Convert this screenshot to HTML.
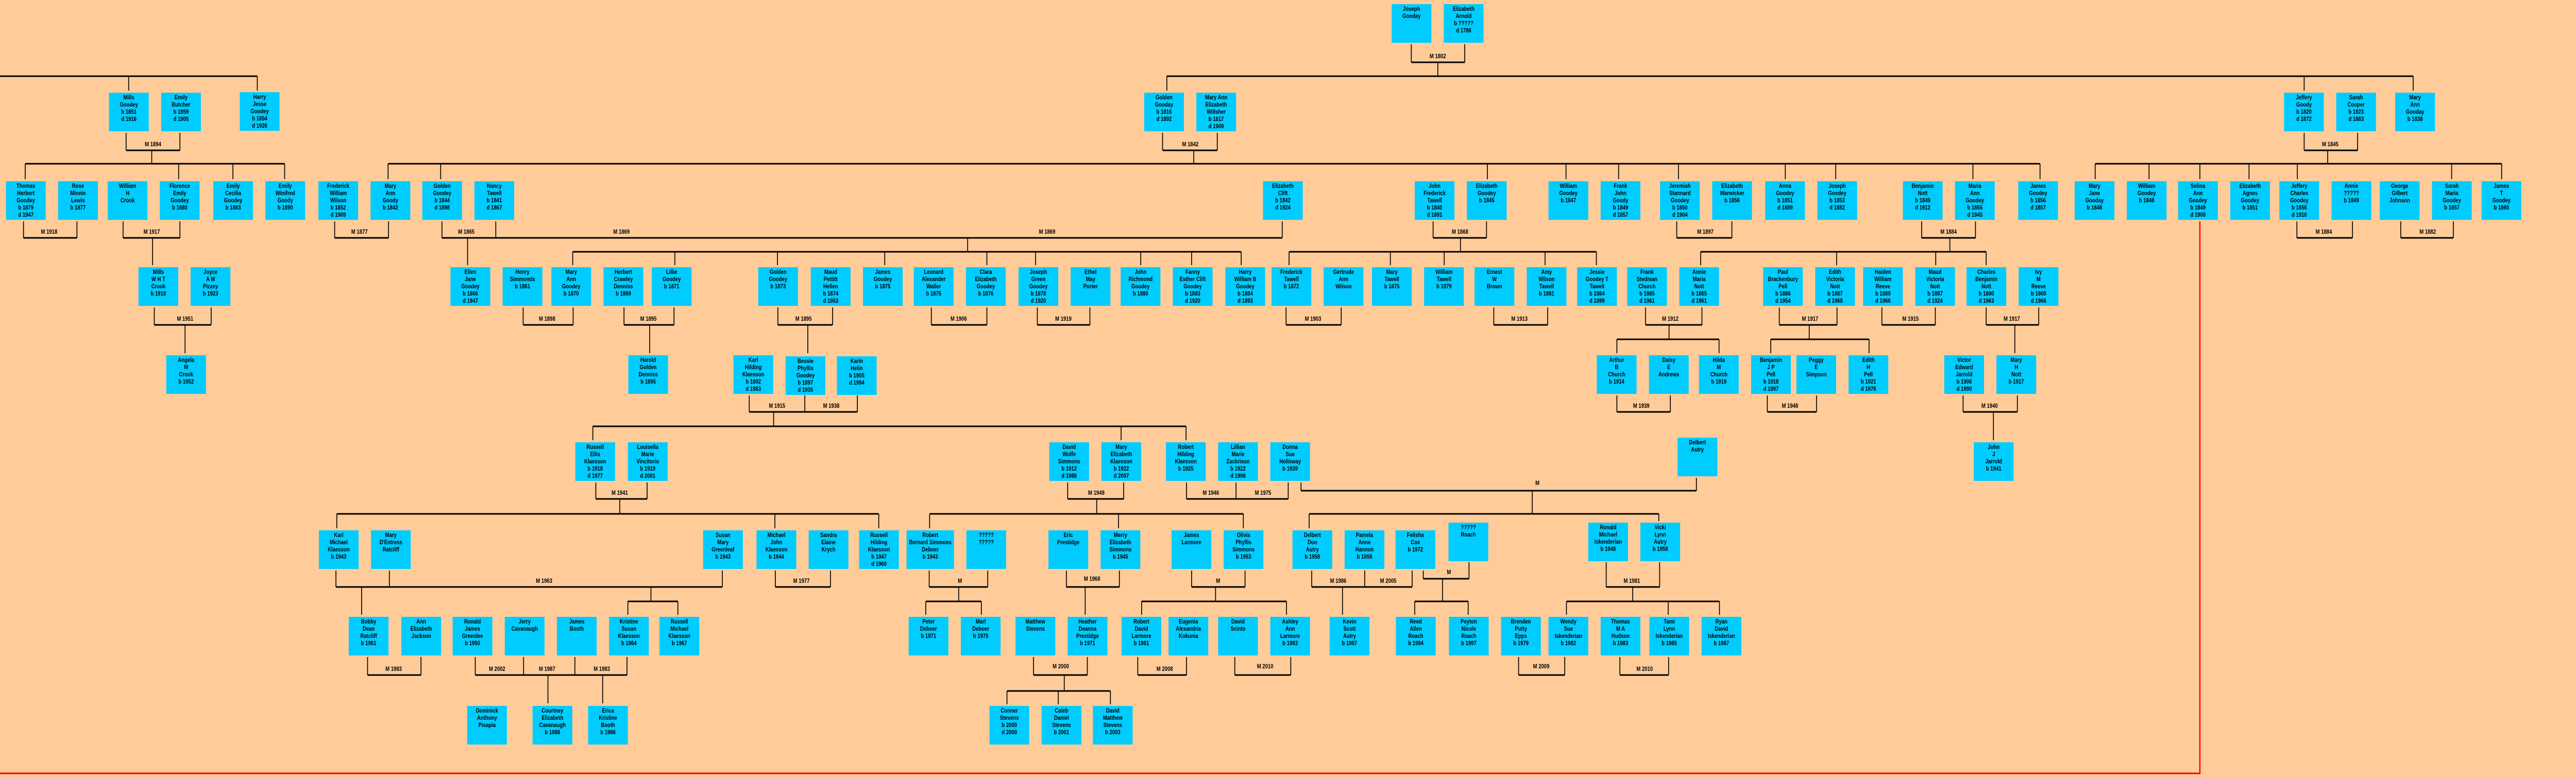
<!DOCTYPE html>
<html><head><meta charset="utf-8"><style>
html,body{margin:0;padding:0;overflow:hidden;background:#ffcc99}
#w{position:absolute;left:0;top:0;width:6027px;height:1511px;background:#ffcc99;transform-origin:0 0;overflow:hidden}
.b{position:absolute;width:93px;height:75px;background:#00ccff;color:#000;font:bold 11.5px/14px "Liberation Sans Narrow","Liberation Sans",sans-serif;text-align:center;padding-top:3px;box-sizing:border-box;white-space:nowrap;overflow:hidden}
svg{position:absolute;left:0;top:0}
svg text{font:bold 11.5px "Liberation Sans Narrow","Liberation Sans",sans-serif;text-anchor:middle;fill:#000}
</style></head><body>
<div id="w">
<svg width="6027" height="1511">
<g stroke="#000" stroke-width="3" fill="none">
<path d="M3302 121H3427M0 148H602M2730 148H5646
M295 292H421M59 318H666M2720 292H2848M908 318H4773M5391 292H5516M4902 318H5853
M55 462H180M288 462H421M783 462H909M1034 462H3000M1340 489H2904M3353 462H3478M3016 489H3735M3923 462H4052M4496 462H4622M3979 489H4647M5374 462H5504M5617 462H5740
M361 631H494M1224 631H1341M1460 631H1577M1820 631H1948M2179 631H2309M2427 631H2550M3009 631H3138M3495 631H3621M3850 631H3982M3783 659H4022M4163 631H4298M4143 659H4373M4403 631H4528M4647 631H4770
M1753 800H2006M1387 828H2775M3783 800H3908M4135 800H4250M4593 800H4720
M1394 969H1514M788 998H2056M2498 969H2629M2175 998H2909M2776 969H3014M3044 953H3969M3063 998H3881
M786 1140H1690M1469 1168H1586M1814 1140H1943M2174 1140H2311M2166 1168H2296M2495 1140H2619M2788 1140H2913M2671 1168H3010M3069 1140H3304M3330 1124H3437M3310 1168H3435M3758 1140H3883M3665 1168H4023
M860 1311H985M1112 1311H1467M2418 1311H2544M2356 1342H2598M2662 1311H2776M2889 1311H3020M3553 1311H3661M3790 1311H3904"/>
</g>
<g stroke="#000" stroke-width="2" fill="none">
<path d="M3302 86V121M3427 86V121M3364 121V148M301 148V176M602 148V176M2730 148V176M5391 148V176M5646 148V176
M295 258V292M421 258V292M355 292V318M59 318V348M418 318V348M545 318V348M666 318V348
M2720 258V292M2848 258V292M2793 292V318M908 318V348M1031 318V348M3480 318V348M3664 318V348M3787 318V348M3927 318V348M4177 318V348M4295 318V348M4616 318V348M4773 318V348
M5391 258V292M5516 258V292M5446 292V318M4902 318V348M5028 318V348M5147 318V348M5262 318V348M5375 318V348M5736 318V348M5853 318V348
M55 430V462M180 430V462M288 430V462M421 430V462M357 462V515M783 430V462M909 430V462M1034 430V462M1160 430V462M3000 430V462M1094 462V515M2264 462V489
M1340 489V515M1579 489V515M1819 489V515M2070 489V515M2309 489V515M2423 489V515M2669 489V515M2788 489V515M2904 489V515
M3353 430V462M3478 430V462M3417 462V489M3016 489V515M3253 489V515M3379 489V515M3615 489V515M3735 489V515M3923 430V462M4052 430V462
M4496 430V462M4622 430V462M4562 462V489M3979 489V515M4297 489V515M4529 489V515M4647 489V515M5374 430V462M5504 430V462M5617 430V462M5740 430V462
M361 597V631M494 597V631M433 631V686M1224 597V631M1341 597V631M1460 597V631M1577 597V631M1520 631V686M1820 597V631M1948 597V631M1890 631V686
M2179 597V631M2309 597V631M2427 597V631M2550 597V631M3009 597V631M3138 597V631M3495 597V631M3621 597V631
M3850 597V631M3982 597V631M3905 631V659M3783 659V686M4022 659V686M4163 597V631M4298 597V631M4233 631V659M4143 659V686M4373 659V686
M4403 597V631M4528 597V631M4647 597V631M4770 597V631M4714 631V686
M1753 768V800M1883 768V800M2006 768V800M1810 800V828M1387 828V855M2623 828V855M2775 828V855M3783 768V800M3908 768V800M4135 768V800M4250 768V800M4593 768V800M4720 768V800M4664 800V855
M1394 937V969M1514 937V969M1450 969V998M788 998V1026M1813 998V1026M2056 998V1026M2498 937V969M2629 937V969M2566 969V998M2175 998V1026M2617 998V1026M2909 998V1026
M2776 937V969M2892 937V969M3014 937V969M3044 937V953M3969 928V953M3585 953V998M3063 998V1026M3881 998V1012
M786 1108V1140M911 1108V1140M1690 1108V1140M846 1140V1194M1523 1140V1168M1469 1168V1194M1586 1168V1194M1814 1108V1140M1943 1108V1140
M2174 1108V1140M2311 1108V1140M2243 1140V1168M2166 1168V1194M2296 1168V1194M2495 1108V1140M2619 1108V1140M2539 1140V1194
M2788 1108V1140M2913 1108V1140M2844 1140V1168M2671 1168V1194M3010 1168V1194M3069 1108V1140M3193 1108V1140M3304 1108V1140M3141 1140V1194
M3330 1108V1124M3437 1092V1124M3375 1124V1168M3310 1168V1194M3435 1168V1194M3758 1092V1140M3883 1092V1140M3820 1140V1168M3665 1168V1194M3903 1168V1194M4023 1168V1194
M860 1276V1311M985 1276V1311M1112 1276V1311M1225 1276V1311M1345 1276V1311M1467 1276V1311M1282 1311V1366M1410 1311V1366
M2418 1276V1311M2544 1276V1311M2490 1311V1342M2356 1342V1368M2476 1342V1368M2598 1342V1368M2662 1276V1311M2776 1276V1311M2889 1276V1311M3020 1276V1311M3553 1276V1311M3661 1276V1311M3790 1276V1311M3904 1276V1311"/>
</g>
<path d="M5147 430V1502H0" stroke="#ff0000" stroke-width="3" fill="none"/>
<g>
<text x="3364" y="113">M 1802</text>
<text x="358" y="284">M 1894</text><text x="2785" y="284">M 1842</text><text x="5452" y="284">M 1845</text>
<text x="115" y="454">M 1918</text><text x="355" y="454">M 1917</text><text x="841" y="454">M 1877</text><text x="1091" y="454">M 1865</text><text x="1454" y="454">M 1869</text><text x="2450" y="454">M 1869</text><text x="3416" y="454">M 1868</text><text x="3990" y="454">M 1897</text><text x="4559" y="454">M 1884</text><text x="5437" y="454">M 1884</text><text x="5680" y="454">M 1882</text>
<text x="433" y="623">M 1951</text><text x="1280" y="623">M 1898</text><text x="1517" y="623">M 1895</text><text x="1880" y="623">M 1895</text><text x="2243" y="623">M 1906</text><text x="2488" y="623">M 1919</text><text x="3072" y="623">M 1903</text><text x="3555" y="623">M 1913</text><text x="3908" y="623">M 1912</text><text x="4235" y="623">M 1917</text><text x="4470" y="623">M 1915</text><text x="4707" y="623">M 1917</text>
<text x="1818" y="792">M 1915</text><text x="1945" y="792">M 1938</text><text x="3840" y="792">M 1939</text><text x="4188" y="792">M 1948</text><text x="4655" y="792">M 1940</text>
<text x="1450" y="961">M 1941</text><text x="2565" y="961">M 1949</text><text x="2833" y="961">M 1946</text><text x="2955" y="961">M 1975</text><text x="3597" y="942">M</text>
<text x="1273" y="1132">M 1963</text><text x="1875" y="1132">M 1977</text><text x="2246" y="1132">M</text><text x="2555" y="1128">M 1968</text><text x="2850" y="1132">M</text><text x="3131" y="1132">M 1986</text><text x="3248" y="1132">M 2005</text><text x="3390" y="1115">M</text><text x="3818" y="1132">M 1981</text>
<text x="921" y="1303">M 1983</text><text x="1163" y="1303">M 2002</text><text x="1280" y="1303">M 1987</text><text x="1408" y="1303">M 1983</text><text x="2482" y="1298">M 2000</text><text x="2725" y="1303">M 2008</text><text x="2960" y="1298">M 2010</text><text x="3606" y="1298">M 2009</text><text x="3848" y="1303">M 2010</text>
</g>
</svg>
<div class="b" style="left:3256px;top:8px">Joseph<br>Gooday</div>
<div class="b" style="left:3378px;top:8px">Elizabeth<br>Arnold<br>b ?????<br>d 1786</div>

<div class="b" style="left:255px;top:180px">Mills<br>Goodey<br>b 1851<br>d 1916</div>
<div class="b" style="left:377px;top:180px">Emily<br>Butcher<br>b 1859<br>d 1905</div>
<div class="b" style="left:561px;top:179px">Harry<br>Jesse<br>Goodey<br>b 1854<br>d 1926</div>
<div class="b" style="left:2677px;top:180px">Golden<br>Gooday<br>b 1816<br>d 1892</div>
<div class="b" style="left:2799px;top:180px">Mary Ann<br>Elizabeth<br>Willsher<br>b 1817<br>d 1909</div>
<div class="b" style="left:5344px;top:180px">Jeffery<br>Goody<br>b 1820<br>d 1872</div>
<div class="b" style="left:5466px;top:180px">Sarah<br>Cooper<br>b 1823<br>d 1883</div>
<div class="b" style="left:5604px;top:180px">Mary<br>Ann<br>Gooday<br>b 1838</div>

<div class="b" style="left:14px;top:352px">Thomas<br>Herbert<br>Goodey<br>b 1879<br>d 1947</div>
<div class="b" style="left:136px;top:352px">Rose<br>Minnie<br>Lewis<br>b 1877</div>
<div class="b" style="left:252px;top:352px">William<br>H<br>Crook</div>
<div class="b" style="left:374px;top:352px">Florence<br>Emily<br>Goodey<br>b 1880</div>
<div class="b" style="left:499px;top:352px">Emily<br>Cecilia<br>Goodey<br>b 1883</div>
<div class="b" style="left:621px;top:352px">Emily<br>Winifred<br>Goody<br>b 1890</div>
<div class="b" style="left:745px;top:352px">Frederick<br>William<br>Wilson<br>b 1852<br>d 1909</div>
<div class="b" style="left:867px;top:352px">Mary<br>Ann<br>Goody<br>b 1842</div>
<div class="b" style="left:988px;top:352px">Golden<br>Goodey<br>b 1844<br>d 1898</div>
<div class="b" style="left:1110px;top:352px">Nancy<br>Tawell<br>b 1841<br>d 1867</div>
<div class="b" style="left:2955px;top:352px">Elizabeth<br>Clift<br>b 1842<br>d 1924</div>
<div class="b" style="left:3310px;top:352px">John<br>Frederick<br>Tawell<br>b 1840<br>d 1891</div>
<div class="b" style="left:3432px;top:352px">Elizabeth<br>Goodey<br>b 1845</div>
<div class="b" style="left:3623px;top:352px">William<br>Goodey<br>b 1847</div>
<div class="b" style="left:3745px;top:352px">Frank<br>John<br>Goody<br>b 1849<br>d 1857</div>
<div class="b" style="left:3884px;top:352px">Jeremiah<br>Stannard<br>Goodey<br>b 1850<br>d 1904</div>
<div class="b" style="left:4006px;top:352px">Elizabeth<br>Warwicker<br>b 1856</div>
<div class="b" style="left:4130px;top:352px">Anna<br>Goodey<br>b 1851<br>d 1889</div>
<div class="b" style="left:4252px;top:352px">Joseph<br>Goodey<br>b 1853<br>d 1882</div>
<div class="b" style="left:4452px;top:352px">Benjamin<br>Nott<br>b 1849<br>d 1912</div>
<div class="b" style="left:4574px;top:352px">Maria<br>Ann<br>Goodey<br>b 1855<br>d 1945</div>
<div class="b" style="left:4722px;top:352px">James<br>Goodey<br>b 1856<br>d 1857</div>
<div class="b" style="left:4854px;top:352px">Mary<br>Jane<br>Gooday<br>b 1846</div>
<div class="b" style="left:4976px;top:352px">William<br>Goodey<br>b 1848</div>
<div class="b" style="left:5096px;top:352px">Selina<br>Ann<br>Goodey<br>b 1849<br>d 1900</div>
<div class="b" style="left:5218px;top:352px">Elizabeth<br>Agnes<br>Goodey<br>b 1851</div>
<div class="b" style="left:5333px;top:352px">Jeffery<br>Charles<br>Goodey<br>b 1856<br>d 1916</div>
<div class="b" style="left:5455px;top:352px">Annie<br>?????<br>b 1849</div>
<div class="b" style="left:5568px;top:352px">George<br>Gilbert<br>Johnson</div>
<div class="b" style="left:5690px;top:352px">Sarah<br>Maria<br>Goodey<br>b 1857</div>
<div class="b" style="left:5806px;top:352px">James<br>T<br>Goodey<br>b 1860</div>

<div class="b" style="left:324px;top:519px">Mills<br>W H T<br>Crook<br>b 1918</div>
<div class="b" style="left:446px;top:519px">Joyce<br>A M<br>Pizzey<br>b 1923</div>
<div class="b" style="left:1054px;top:519px">Ellen<br>Jane<br>Goodey<br>b 1866<br>d 1947</div>
<div class="b" style="left:1176px;top:519px">Henry<br>Simmonds<br>b 1861</div>
<div class="b" style="left:1290px;top:519px">Mary<br>Ann<br>Goodey<br>b 1870</div>
<div class="b" style="left:1412px;top:519px">Herbert<br>Crawley<br>Denniss<br>b 1869</div>
<div class="b" style="left:1525px;top:519px">Lillie<br>Goodey<br>b 1871</div>
<div class="b" style="left:1774px;top:519px">Golden<br>Goodey<br>b 1873</div>
<div class="b" style="left:1897px;top:519px">Maud<br>Pettitt<br>Hellen<br>b 1874<br>d 1953</div>
<div class="b" style="left:2019px;top:519px">James<br>Goodey<br>b 1875</div>
<div class="b" style="left:2138px;top:519px">Leonard<br>Alexander<br>Waller<br>b 1875</div>
<div class="b" style="left:2260px;top:519px">Clara<br>Elizabeth<br>Goodey<br>b 1876</div>
<div class="b" style="left:2383px;top:519px">Joseph<br>Green<br>Goodey<br>b 1878<br>d 1920</div>
<div class="b" style="left:2505px;top:519px">Ethel<br>May<br>Porter</div>
<div class="b" style="left:2622px;top:519px">John<br>Richmond<br>Goodey<br>b 1880</div>
<div class="b" style="left:2744px;top:519px">Fanny<br>Esther Clift<br>Goodey<br>b 1883<br>d 1920</div>
<div class="b" style="left:2867px;top:519px">Harry<br>William B<br>Goodey<br>b 1884<br>d 1893</div>
<div class="b" style="left:2975px;top:519px">Frederick<br>Tawell<br>b 1872</div>
<div class="b" style="left:3097px;top:519px">Gertrude<br>Ann<br>Wilson</div>
<div class="b" style="left:3210px;top:519px">Mary<br>Tawell<br>b 1875</div>
<div class="b" style="left:3332px;top:519px">William<br>Tawell<br>b 1879</div>
<div class="b" style="left:3450px;top:519px">Ernest<br>W<br>Brown</div>
<div class="b" style="left:3572px;top:519px">Amy<br>Wilson<br>Tawell<br>b 1881</div>
<div class="b" style="left:3690px;top:519px">Jessie<br>Goodey T<br>Tawell<br>b 1884<br>d 1899</div>
<div class="b" style="left:3807px;top:519px">Frank<br>Stedman<br>Church<br>b 1885<br>d 1961</div>
<div class="b" style="left:3929px;top:519px">Annie<br>Maria<br>Nott<br>b 1885<br>d 1961</div>
<div class="b" style="left:4125px;top:519px">Paul<br>Brackenbury<br>Pell<br>b 1886<br>d 1954</div>
<div class="b" style="left:4247px;top:519px">Edith<br>Victoria<br>Nott<br>b 1887<br>d 1968</div>
<div class="b" style="left:4359px;top:519px">Haiden<br>William<br>Reeve<br>b 1889<br>d 1966</div>
<div class="b" style="left:4481px;top:519px">Maud<br>Victoria<br>Nott<br>b 1887<br>d 1924</div>
<div class="b" style="left:4601px;top:519px">Charles<br>Benjamin<br>Nott<br>b 1890<br>d 1963</div>
<div class="b" style="left:4723px;top:519px">Ivy<br>M<br>Reeve<br>b 1900<br>d 1966</div>

<div class="b" style="left:389px;top:690px">Angela<br>M<br>Crook<br>b 1952</div>
<div class="b" style="left:1470px;top:690px">Harold<br>Golden<br>Denniss<br>b 1895</div>
<div class="b" style="left:1716px;top:690px">Karl<br>Hilding<br>Klaesson<br>b 1892<br>d 1983</div>
<div class="b" style="left:1838px;top:692px">Bessie<br>Phyllis<br>Goodey<br>b 1897<br>d 1935</div>
<div class="b" style="left:1958px;top:692px">Karin<br>Helin<br>b 1905<br>d 1994</div>
<div class="b" style="left:3736px;top:690px">Arthur<br>B<br>Church<br>b 1914</div>
<div class="b" style="left:3858px;top:690px">Daisy<br>E<br>Andrews</div>
<div class="b" style="left:3975px;top:690px">Hilda<br>M<br>Church<br>b 1919</div>
<div class="b" style="left:4097px;top:690px">Benjamin<br>J P<br>Pell<br>b 1918<br>d 1997</div>
<div class="b" style="left:4203px;top:690px">Peggy<br>E<br>Simpson</div>
<div class="b" style="left:4325px;top:690px">Edith<br>H<br>Pell<br>b 1921<br>d 1976</div>
<div class="b" style="left:4549px;top:690px">Victor<br>Edward<br>Jarrold<br>b 1906<br>d 1990</div>
<div class="b" style="left:4671px;top:690px">Mary<br>H<br>Nott<br>b 1917</div>

<div class="b" style="left:1346px;top:859px">Russell<br>Ellis<br>Klaesson<br>b 1918<br>d 1977</div>
<div class="b" style="left:1469px;top:859px">Louisella<br>Marie<br>Vincitorio<br>b 1919<br>d 2001</div>
<div class="b" style="left:2455px;top:859px">David<br>Wolfe<br>Simmons<br>b 1912<br>d 1986</div>
<div class="b" style="left:2577px;top:859px">Mary<br>Elizabeth<br>Klaesson<br>b 1922<br>d 2007</div>
<div class="b" style="left:2728px;top:859px">Robert<br>Hilding<br>Klaesson<br>b 1925</div>
<div class="b" style="left:2850px;top:859px">Lillian<br>Marie<br>Zackrison<br>b 1922<br>d 1996</div>
<div class="b" style="left:2972px;top:859px">Donna<br>Sue<br>Holloway<br>b 1939</div>
<div class="b" style="left:3925px;top:850px">Delbert<br>Autry</div>
<div class="b" style="left:4618px;top:859px">John<br>J<br>Jarrold<br>b 1941</div>

<div class="b" style="left:746px;top:1030px">Karl<br>Michael<br>Klaesson<br>b 1943</div>
<div class="b" style="left:868px;top:1030px">Mary<br>D'Entress<br>Ratcliff</div>
<div class="b" style="left:1645px;top:1030px">Susan<br>Mary<br>Greenleaf<br>b 1943</div>
<div class="b" style="left:1770px;top:1030px">Michael<br>John<br>Klaesson<br>b 1944</div>
<div class="b" style="left:1892px;top:1030px">Sandra<br>Elaine<br>Krych</div>
<div class="b" style="left:2010px;top:1030px">Russell<br>Hilding<br>Klaesson<br>b 1947<br>d 1960</div>
<div class="b" style="left:2121px;top:1030px;width:111px">Robert<br>Bernard Simmons<br>Deboer<br>b 1943</div>
<div class="b" style="left:2261px;top:1030px">?????<br>?????</div>
<div class="b" style="left:2453px;top:1030px">Eric<br>Prestidge</div>
<div class="b" style="left:2575px;top:1030px">Merry<br>Elizabeth<br>Simmons<br>b 1945</div>
<div class="b" style="left:2741px;top:1030px">James<br>Larmore</div>
<div class="b" style="left:2863px;top:1030px">Olivia<br>Phyllis<br>Simmons<br>b 1953</div>
<div class="b" style="left:3024px;top:1030px">Delbert<br>Don<br>Autry<br>b 1958</div>
<div class="b" style="left:3146px;top:1030px">Pamela<br>Anne<br>Hannon<br>b 1959</div>
<div class="b" style="left:3265px;top:1030px">Felisha<br>Cox<br>b 1972</div>
<div class="b" style="left:3389px;top:1015px">?????<br>Roach</div>
<div class="b" style="left:3716px;top:1015px">Ronald<br>Michael<br>Iskenderian<br>b 1948</div>
<div class="b" style="left:3838px;top:1015px">Vicki<br>Lynn<br>Autry<br>b 1959</div>

<div class="b" style="left:816px;top:1198px">Bobby<br>Dean<br>Ratcliff<br>b 1961</div>
<div class="b" style="left:939px;top:1198px">Ann<br>Elizabeth<br>Jackson</div>
<div class="b" style="left:1059px;top:1198px">Ronald<br>James<br>Greenlee<br>b 1950</div>
<div class="b" style="left:1181px;top:1198px">Jerry<br>Cavanaugh</div>
<div class="b" style="left:1303px;top:1198px">James<br>Booth</div>
<div class="b" style="left:1425px;top:1198px">Kristine<br>Susan<br>Klaesson<br>b 1964</div>
<div class="b" style="left:1543px;top:1198px">Russell<br>Michael<br>Klaesson<br>b 1967</div>
<div class="b" style="left:2126px;top:1198px">Peter<br>Deboer<br>b 1971</div>
<div class="b" style="left:2248px;top:1198px">Marl<br>Deboer<br>b 1975</div>
<div class="b" style="left:2376px;top:1198px">Matthew<br>Stevens</div>
<div class="b" style="left:2498px;top:1198px">Heather<br>Deanna<br>Prestidge<br>b 1971</div>
<div class="b" style="left:2624px;top:1198px">Robert<br>David<br>Larmore<br>b 1981</div>
<div class="b" style="left:2734px;top:1198px">Eugenia<br>Alexandria<br>Kokunia</div>
<div class="b" style="left:2850px;top:1198px">David<br>Scinto</div>
<div class="b" style="left:2972px;top:1198px">Ashley<br>Ann<br>Larmore<br>b 1983</div>
<div class="b" style="left:3111px;top:1198px">Kevin<br>Scott<br>Autry<br>b 1987</div>
<div class="b" style="left:3266px;top:1198px">Reed<br>Allen<br>Roach<br>b 1994</div>
<div class="b" style="left:3390px;top:1198px">Peyton<br>Nicole<br>Roach<br>b 1997</div>
<div class="b" style="left:3512px;top:1198px">Brenden<br>Putty<br>Epps<br>b 1979</div>
<div class="b" style="left:3623px;top:1198px">Wendy<br>Sue<br>Iskenderian<br>b 1982</div>
<div class="b" style="left:3745px;top:1198px">Thomas<br>M A<br>Hudson<br>b 1983</div>
<div class="b" style="left:3859px;top:1198px">Tami<br>Lynn<br>Iskenderian<br>b 1985</div>
<div class="b" style="left:3981px;top:1198px">Ryan<br>David<br>Iskenderian<br>b 1987</div>

<div class="b" style="left:1093px;top:1371px">Dominick<br>Anthony<br>Pisapia</div>
<div class="b" style="left:1246px;top:1371px">Courtney<br>Elizabeth<br>Cavanaugh<br>b 1988</div>
<div class="b" style="left:1376px;top:1371px">Erica<br>Kristine<br>Booth<br>b 1986</div>
<div class="b" style="left:2315px;top:1371px">Conner<br>Stevens<br>b 2000<br>d 2000</div>
<div class="b" style="left:2437px;top:1371px">Caleb<br>Daniel<br>Stevens<br>b 2001</div>
<div class="b" style="left:2557px;top:1371px">David<br>Matthew<br>Stevens<br>b 2003</div>
</div>
<script>
(function(){
var w=document.getElementById('w');
function fit(){
var vw=window.innerWidth||document.documentElement.clientWidth||6027;
var vh=window.innerHeight||document.documentElement.clientHeight||1511;
var sx=vw/6027, sy=vh/1511;
if(sx>0.3&&sx<3&&sy>0.3&&sy<3){w.style.transform='scale('+sx+','+sy+')';}
}
fit();window.addEventListener('resize',fit);
})();
</script>
</body></html>
